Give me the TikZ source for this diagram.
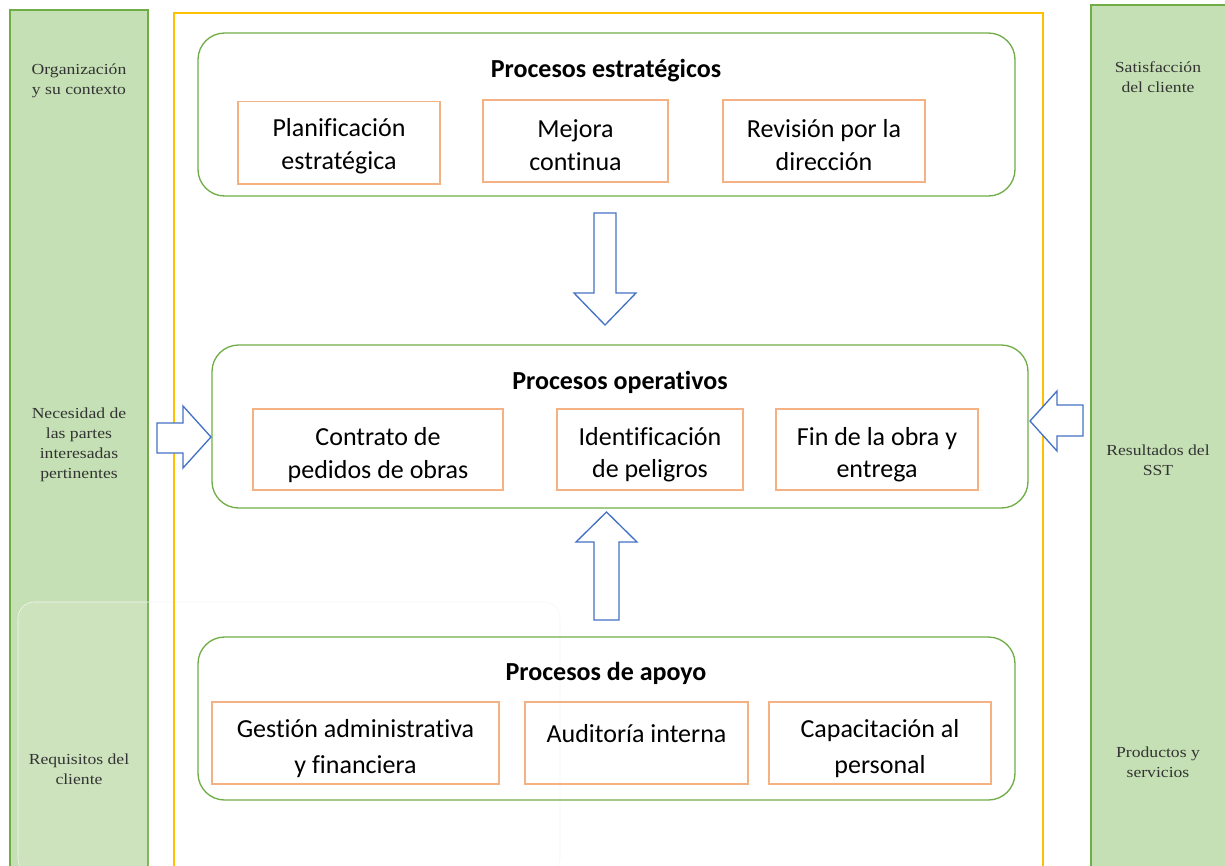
\documentclass[tikz,border=0pt]{standalone}
\usepackage{fontspec}
\setmainfont[Ligatures=NoCommon]{Carlito}
\newfontfamily\stripfont[FakeStretch=1.15]{Liberation Serif}
\definecolor{stripfill}{HTML}{C5E0B4}
\definecolor{stripline}{HTML}{70AD47}
\definecolor{frameyellow}{HTML}{FFC000}
\definecolor{boxorange}{HTML}{F4B183}
\definecolor{arrowblue}{HTML}{4472C4}
\tikzset{
  strip/.style={draw=stripline, fill=stripfill, line width=1pt},
  striptext/.style={font=\stripfont\fontsize{11.5}{15}\selectfont, align=center, text=black!80},
  group/.style={draw=stripline, line width=1pt, rounded corners=20pt},
  grouptitle/.style={font=\bfseries\fontsize{19.5}{22}\selectfont},
  subbox/.style={draw=boxorange, line width=1pt, inner sep=0pt},
  boxtext/.style={align=center, font=\fontsize{19.5}{24.5}\selectfont, inner sep=0pt},
  blockarrow/.style={draw=arrowblue, fill=white, line width=1pt, line join=miter}
}
\begin{document}
\begin{tikzpicture}[x=0.75pt,y=-0.75pt]
\useasboundingbox (0,0) rectangle (1225,865);
% side strips
\draw[strip] (10,10) rectangle (148,870);
\draw[strip] (1091,5) rectangle (1230,870);
% faint overlay
\draw[draw=black!4, fill=white, fill opacity=0.12, rounded corners=12pt] (18,602) rectangle (560,875);
% yellow frame
\draw[draw=frameyellow, line width=1pt] (174,13) rectangle (1043,870);
% strip texts
\node[striptext] (l1) at (79,81) {Organización\\y su contexto};
\node[striptext] (l2) at (79,445) {Necesidad de\\las partes\\interesadas\\pertinentes};
\node[striptext] (l3) at (79,769) {Requisitos del\\cliente};
\node[striptext] (r1) at (1158,77) {Satisfacción\\del cliente};
\node[striptext] (r2) at (1158,460) {Resultados del\\SST};
\node[striptext] (r3) at (1158,762) {Productos y\\servicios};
% groups
\draw[group] (198,33) rectangle (1015,196);
\node[grouptitle] (t1) at (606,71) {Procesos estratégicos};
\draw[group] (212,345) rectangle (1028,508);
\node[grouptitle] (t2) at (620,382) {Procesos operativos};
\draw[group] (198,637) rectangle (1015,800);
\node[grouptitle] (t3) at (606,673) {Procesos de apoyo};
% strategic boxes
\node[subbox, minimum width=151.5pt, minimum height=62pt] (a1) at (339,142.5) {};
\node[boxtext] (a1t) at ([yshift=-3pt]a1.center) {Planificación\\estratégica};
\node[subbox, minimum width=138.75pt, minimum height=61.5pt] (a2) at (575.5,141) {};
\node[boxtext] (a2t) at ([yshift=-3pt]a2.center) {Mejora\\continua};
\node[subbox, minimum width=151.5pt, minimum height=61.5pt] (a3) at (824,141) {};
\node[boxtext] (a3t) at ([yshift=-3pt]a3.center) {Revisión por la\\dirección};
% operative boxes
\node[subbox, minimum width=187.5pt, minimum height=60.75pt] (b1) at (378,449.5) {};
\node[boxtext] (b1t) at ([yshift=-4pt]b1.center) {Contrato de\\pedidos de obras};
\node[subbox, minimum width=139.5pt, minimum height=60.75pt] (b2) at (650,449.5) {};
\node[boxtext] (b2t) at ([yshift=-4pt]b2.center) {Identificación\\de peligros};
\node[subbox, minimum width=151.5pt, minimum height=60.75pt] (b3) at (877,449.5) {};
\node[boxtext] (b3t) at ([yshift=-4pt]b3.center) {Fin de la obra y\\entrega};
% support boxes
\node[subbox, minimum width=215.25pt, minimum height=61.5pt] (c1) at (355.5,743) {};
\node[boxtext, font=\fontsize{19.5}{27}\selectfont] (c1t) at ([yshift=-4pt]c1.center) {Gestión administrativa\\y financiera};
\node[subbox, minimum width=167.25pt, minimum height=61.5pt] (c2) at (636.5,743) {};
\node[boxtext] (c2t) at ([yshift=7pt]c2.center) {Auditoría interna};
\node[subbox, minimum width=166.5pt, minimum height=61.5pt] (c3) at (880,743) {};
\node[boxtext, font=\fontsize{19.5}{27}\selectfont] (c3t) at ([yshift=-4pt]c3.center) {Capacitación al\\personal};
% block arrows
\draw[blockarrow] (594,213) -- (616,213) -- (616,293) -- (636,293) -- (605,325) -- (574,293) -- (594,293) -- cycle;
\draw[blockarrow] (594,620) -- (619,620) -- (619,542) -- (637,542) -- (606.5,512) -- (576,542) -- (594,542) -- cycle;
\draw[blockarrow] (157,423) -- (183,423) -- (183,406) -- (211,437) -- (183,468) -- (183,453) -- (157,453) -- cycle;
\draw[blockarrow] (1083,405) -- (1057,405) -- (1057,391) -- (1030,421) -- (1057,451) -- (1057,436) -- (1083,436) -- cycle;
\end{tikzpicture}
\end{document}
